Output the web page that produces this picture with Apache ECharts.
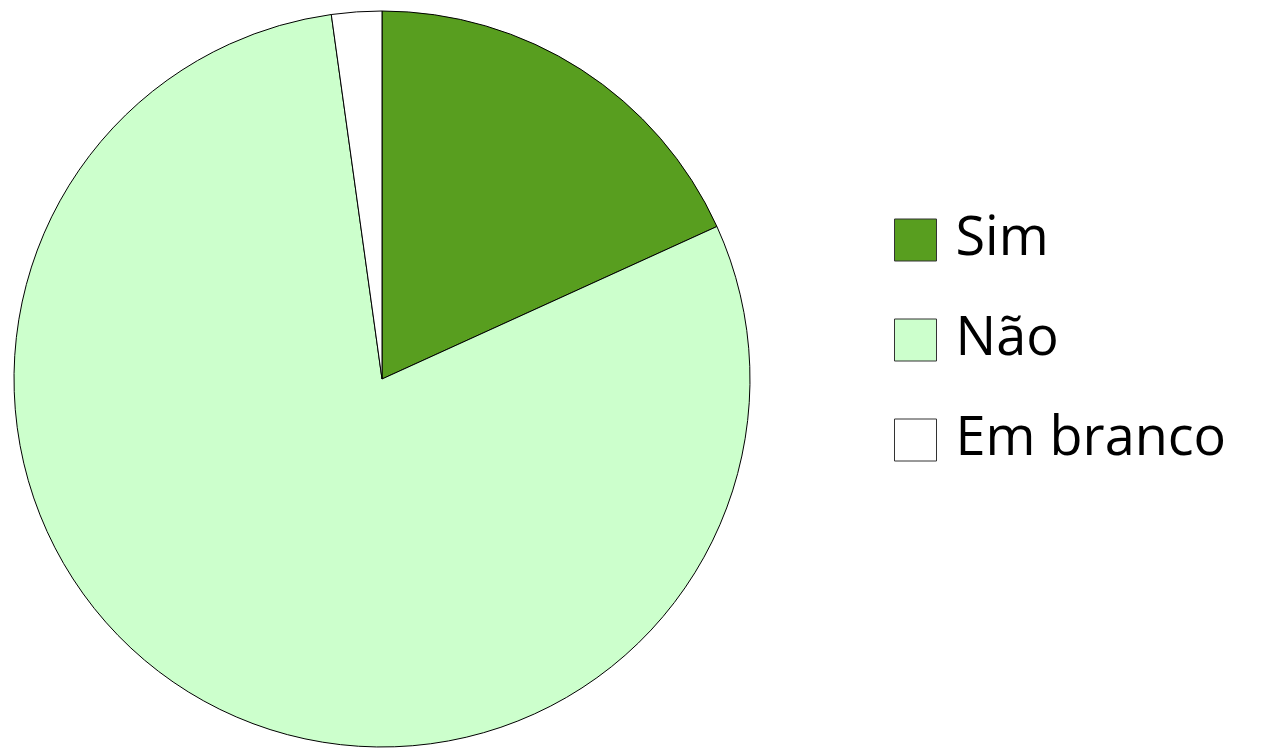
<!DOCTYPE html>
<html>
<head>
<meta charset="utf-8">
<script src="https://cdn.jsdelivr.net/npm/echarts@6/dist/echarts.min.js"></script>
<style>
  html, body { margin: 0; padding: 0; background: #fff; }
  #chart { width: 1271px; height: 748px; }
</style>
</head>
<body>
<div id="chart"></div>
<script>
// categorias e valores (%)
const categories = ["Sim", "Não", "Em branco"];
const values = [18.2, 79.6, 2.2];
const colors = ["#589E1F", "#CCFFCC", "#FFFFFF"];

const myChart = echarts.init(document.getElementById("chart"));
myChart.setOption({
  animation: false,
  color: colors,
  legend: {
    orient: "vertical",
    left: 894,
    top: 213,
    padding: 0,
    itemWidth: 42,
    itemHeight: 42,
    itemGap: 46,
    icon: "rect",
    data: categories,
    itemStyle: { borderColor: "#333", borderWidth: 1 },
    textStyle: {
      fontFamily: "Open Sans",
      fontSize: 54,
      color: "#000",
      padding: [0, 0, 0, 14]
    }
  },
  series: [
    {
      type: "pie",
      center: [382, 379],
      radius: 368,
      startAngle: 90,
      clockwise: true,
      label: { show: false },
      labelLine: { show: false },
      emphasis: { disabled: true },
      itemStyle: { borderColor: "#000", borderWidth: 1 },
      data: categories.map((c, i) => ({ name: c, value: values[i] }))
    }
  ]
});
</script>
</body>
</html>
